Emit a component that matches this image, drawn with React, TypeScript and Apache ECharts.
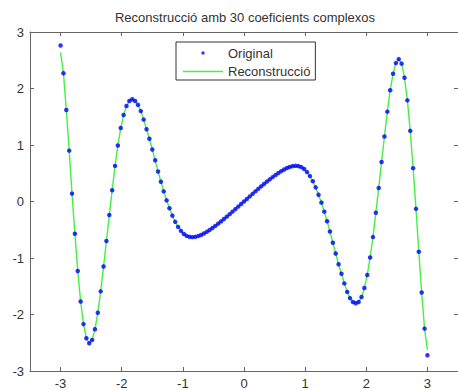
import React, { useEffect, useRef } from "react";
import * as echarts from "echarts";

const titleText = "Reconstrucció amb 30 coeficients complexos";
const seriesNames = ["Original", "Reconstrucció"];
const xTicks = [-3, -2, -1, 0, 1, 2, 3];
const yTicks = [-3, -2, -1, 0, 1, 2, 3];

const xs = [
  -3, -2.953, -2.906, -2.859, -2.813, -2.766, -2.719, -2.672, -2.625, -2.578,
  -2.531, -2.484, -2.438, -2.391, -2.344, -2.297, -2.25, -2.203, -2.156, -2.109,
  -2.063, -2.016, -1.969, -1.922, -1.875, -1.828, -1.781, -1.734, -1.688, -1.641,
  -1.594, -1.547, -1.5, -1.453, -1.406, -1.359, -1.313, -1.266, -1.219, -1.172,
  -1.125, -1.078, -1.031, -0.984, -0.938, -0.891, -0.844, -0.797, -0.75, -0.703,
  -0.656, -0.609, -0.563, -0.516, -0.469, -0.422, -0.375, -0.328, -0.281, -0.234,
  -0.188, -0.141, -0.094, -0.047, 0,
  0.047, 0.094, 0.141, 0.188, 0.234, 0.281, 0.328, 0.375, 0.422, 0.469,
  0.516, 0.563, 0.609, 0.656, 0.703, 0.75, 0.797, 0.844, 0.891, 0.938,
  0.984, 1.031, 1.078, 1.125, 1.172, 1.219, 1.266, 1.313, 1.359, 1.406,
  1.453, 1.5, 1.547, 1.594, 1.641, 1.688, 1.734, 1.781, 1.828, 1.875,
  1.922, 1.969, 2.016, 2.063, 2.109, 2.156, 2.203, 2.25, 2.297, 2.344,
  2.391, 2.438, 2.484, 2.531, 2.578, 2.625, 2.672, 2.719, 2.766, 2.813,
  2.859, 2.906, 2.953, 3,
];

const original = [
  2.76, 2.27, 1.62, 0.9, 0.14, -0.57, -1.23, -1.77, -2.17, -2.42,
  -2.51, -2.45, -2.26, -1.97, -1.59, -1.15, -0.7, -0.24, 0.2, 0.63,
  0.99, 1.3, 1.53, 1.69, 1.78, 1.81, 1.78, 1.71, 1.6, 1.45,
  1.28, 1.11, 0.92, 0.73, 0.53, 0.35, 0.18, 0.02, -0.12, -0.25,
  -0.36, -0.45, -0.52, -0.575, -0.608, -0.626, -0.631, -0.626, -0.612, -0.592,
  -0.566, -0.537, -0.504, -0.469, -0.432, -0.392, -0.352, -0.311, -0.268, -0.224,
  -0.18, -0.135, -0.09, -0.045, 0,
  0.045, 0.09, 0.135, 0.18, 0.224, 0.268, 0.311, 0.352, 0.392, 0.432,
  0.469, 0.504, 0.537, 0.566, 0.592, 0.612, 0.626, 0.631, 0.626, 0.608,
  0.575, 0.52, 0.45, 0.36, 0.25, 0.12, -0.02, -0.18, -0.35, -0.53,
  -0.73, -0.92, -1.11, -1.28, -1.45, -1.6, -1.71, -1.78, -1.8, -1.78,
  -1.69, -1.53, -1.3, -0.99, -0.63, -0.2, 0.24, 0.7, 1.15, 1.59,
  1.97, 2.26, 2.45, 2.52, 2.44, 2.19, 1.79, 1.25, 0.59, -0.13,
  -0.89, -1.61, -2.25, -2.72,
];

const reconstruction = [
  2.64, 2.27, 1.62, 0.9, 0.14, -0.57, -1.23, -1.77, -2.17, -2.42,
  -2.51, -2.45, -2.26, -1.97, -1.59, -1.15, -0.7, -0.24, 0.2, 0.63,
  0.99, 1.3, 1.53, 1.69, 1.78, 1.81, 1.78, 1.71, 1.6, 1.45,
  1.28, 1.11, 0.92, 0.73, 0.53, 0.35, 0.18, 0.02, -0.12, -0.25,
  -0.36, -0.45, -0.52, -0.575, -0.608, -0.626, -0.631, -0.626, -0.612, -0.592,
  -0.566, -0.537, -0.504, -0.469, -0.432, -0.392, -0.352, -0.311, -0.268, -0.224,
  -0.18, -0.135, -0.09, -0.045, 0,
  0.045, 0.09, 0.135, 0.18, 0.224, 0.268, 0.311, 0.352, 0.392, 0.432,
  0.469, 0.504, 0.537, 0.566, 0.592, 0.612, 0.626, 0.631, 0.626, 0.608,
  0.575, 0.52, 0.45, 0.36, 0.25, 0.12, -0.02, -0.18, -0.35, -0.53,
  -0.73, -0.92, -1.11, -1.28, -1.45, -1.6, -1.71, -1.78, -1.8, -1.78,
  -1.69, -1.53, -1.3, -0.99, -0.63, -0.2, 0.24, 0.7, 1.15, 1.59,
  1.97, 2.26, 2.45, 2.52, 2.44, 2.19, 1.79, 1.25, 0.59, -0.13,
  -0.89, -1.61, -2.25, -2.62,
];

const FONT = "'Liberation Sans', Arial, Helvetica, sans-serif";
const AXIS_COLOR = "#666";
const TEXT_COLOR = "#333";
const LINE_GREEN = "#44f044";
const DOT_BLUE = "#0000ff";

export default function App() {
  const ref = useRef<HTMLDivElement>(null);

  useEffect(() => {
    if (!ref.current) return;
    const chart = echarts.init(ref.current, null, { renderer: "svg" });

    const tickCommon = {
      show: true,
      inside: true,
      length: 4,
      lineStyle: { color: AXIS_COLOR, width: 1 },
    };

    const xBase = {
      type: "value" as const,
      min: -3.5,
      max: 3.5,
      splitLine: { show: false },
      axisLine: { show: true, onZero: false, lineStyle: { color: AXIS_COLOR, width: 1 } },
    };
    const yBase = {
      type: "value" as const,
      min: -3,
      max: 3,
      interval: 1,
      splitLine: { show: false },
      axisLine: { show: true, onZero: false, lineStyle: { color: AXIS_COLOR, width: 1 } },
    };

    chart.setOption({
      animation: false,
      backgroundColor: "#fff",
      title: {
        text: titleText,
        left: 245,
        top: 11,
        padding: 0,
        textAlign: "center",
        textStyle: { fontFamily: FONT, fontSize: 13, fontWeight: "normal", color: TEXT_COLOR },
      },
      grid: { left: 30, top: 32, width: 430, height: 339, containLabel: false },
      legend: {
        orient: "vertical",
        left: 176,
        top: 42,
        padding: [4, 5, 2, 7],
        itemWidth: 40,
        itemHeight: 14,
        itemGap: 5,
        borderColor: "#333",
        borderWidth: 1,
        backgroundColor: "#fff",
        selectedMode: false,
        textStyle: { fontFamily: FONT, fontSize: 13, color: TEXT_COLOR },
        data: [
          {
            name: seriesNames[0],
            icon: "path://M0 0M40 14M18.3 7a1.7 1.7 0 1 0 3.4 0a1.7 1.7 0 1 0 -3.4 0z",
            itemStyle: { color: DOT_BLUE, borderWidth: 0 },
          },
          {
            name: seriesNames[1],
            icon: "path://M0 6.3h40v1.4h-40z",
            itemStyle: { color: LINE_GREEN, borderWidth: 0 },
          },
        ],
      },
      xAxis: [
        {
          ...xBase,
          position: "bottom",
          axisTick: { ...tickCommon, customValues: xTicks },
          axisLabel: {
            show: true,
            customValues: xTicks,
            margin: 6,
            fontFamily: FONT,
            fontSize: 13,
            color: TEXT_COLOR,
          },
        },
        {
          ...xBase,
          position: "top",
          axisTick: { ...tickCommon, customValues: xTicks },
          axisLabel: { show: false },
        },
      ],
      yAxis: [
        {
          ...yBase,
          position: "left",
          axisTick: tickCommon,
          axisLabel: {
            show: true,
            margin: 6,
            fontFamily: FONT,
            fontSize: 13,
            color: TEXT_COLOR,
            customValues: yTicks,
          },
        },
        {
          ...yBase,
          position: "right",
          axisTick: tickCommon,
          axisLabel: { show: false },
        },
      ],
      series: [
        {
          name: seriesNames[1],
          type: "line",
          xAxisIndex: 0,
          yAxisIndex: 0,
          symbol: "none",
          color: LINE_GREEN,
          lineStyle: { color: LINE_GREEN, width: 1.4 },
          data: xs.map((x, i) => [x, reconstruction[i]]),
          z: 2,
        },
        {
          name: seriesNames[0],
          type: "scatter",
          xAxisIndex: 0,
          yAxisIndex: 0,
          symbol: "circle",
          symbolSize: 4.5,
          color: DOT_BLUE,
          itemStyle: { color: DOT_BLUE },
          data: xs.map((x, i) => [x, original[i]]),
          z: 3,
        },
      ],
    });

    return () => chart.dispose();
  }, []);

  return (
    <div
      ref={ref}
      style={{ position: "fixed", left: 0, top: 0, width: 458, height: 390, background: "#fff" }}
    />
  );
}
